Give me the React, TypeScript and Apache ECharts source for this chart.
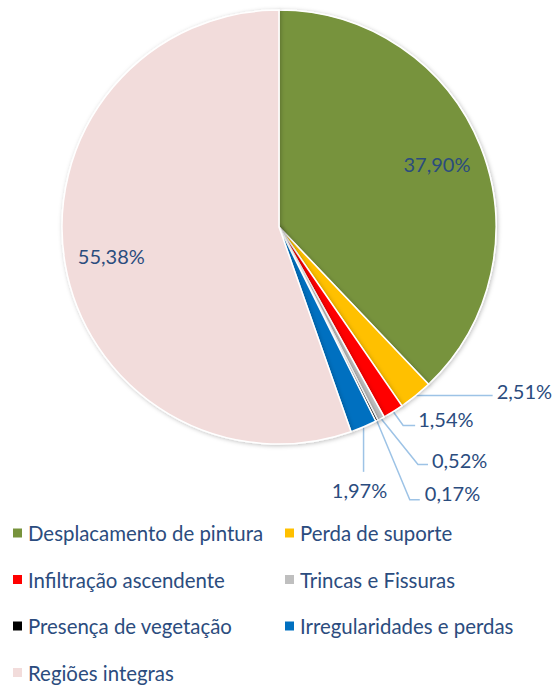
import React, { useEffect, useRef } from "react";
import * as echarts from "echarts";

const categories = [
  "Desplacamento de pintura",
  "Perda de suporte",
  "Infiltração ascendente",
  "Trincas e Fissuras",
  "Presença de vegetação",
  "Irregularidades e perdas",
  "Regiões integras",
];
const values = [37.9, 2.51, 1.54, 0.52, 0.17, 1.97, 55.38];
const colors = ["#77933C", "#FFC000", "#FF0000", "#BFBFBF", "#000000", "#0070C0", "#F2DCDB"];
const insideLabelIdx = [0, 6];
const legendCol1 = [0, 2, 4, 6];
const legendCol2 = [1, 3, 5];

// label placement (offsets from the slice edge anchor): [midDx, midDy, endDx, endDy, textDx, textDy, align]
const labelGeom: Record<number, [number, number, number, number, number, number, string]> = {
  1: [3, 0, 77, 0, 81, -5, "left"],
  2: [10, 14, 22, 14, 25, 7, "left"],
  3: [37, 46, 47, 46, 51, 41, "left"],
  4: [33, 79, 43, 79, 48, 72, "left"],
  5: [0, 22, 0, 45, -4, 63, "center"],
};

const CX = 279;
const CY = 227;
const R = 217;
const TEXT = "#2B4C7E";
const FONT = "Lato";

const fmt = (v: number) => v.toFixed(2).replace(".", ",") + "%";

export default function App() {
  const ref = useRef<HTMLDivElement>(null);
  useEffect(() => {
    if (!ref.current) return;
    const chart = echarts.init(ref.current, undefined, { renderer: "svg" });
    const total = values.reduce((a, b) => a + b, 0);
    const cum: number[] = [];
    let acc = 0;
    values.forEach((v) => {
      cum.push(acc + v / 2);
      acc += v;
    });
    const anchor = (i: number) => {
      const a = (cum[i] / total) * Math.PI * 2;
      return [CX + R * Math.sin(a), CY - R * Math.cos(a)];
    };

    const mainData = categories.map((name, i) => ({
      name,
      value: values[i],
      itemStyle: { color: colors[i] },
      label: { show: !insideLabelIdx.includes(i) },
      labelLine: { show: !insideLabelIdx.includes(i) },
    }));
    const labelData = categories.map((name, i) => ({
      name,
      value: values[i],
      itemStyle: { color: "rgba(0,0,0,0)", borderWidth: 0 },
      label: { show: insideLabelIdx.includes(i) },
    }));

    const legendBase = {
      orient: "vertical" as const,
      icon: "rect",
      itemWidth: 11,
      itemHeight: 11,
      itemGap: 26.5,
      padding: 0,
      height: 200,
      textStyle: { fontFamily: FONT, fontSize: 20.4, color: TEXT, lineHeight: 20 },
      selectedMode: false,
    };

    chart.setOption({
      animation: false,
      backgroundColor: "#ffffff",
      legend: [
        { ...legendBase, left: 11, top: 523, data: legendCol1.map((i) => categories[i]) },
        { ...legendBase, left: 283, top: 523, data: legendCol2.map((i) => categories[i]) },
      ],
      series: [
        {
          type: "pie",
          center: [CX, CY],
          radius: [0, R],
          startAngle: 90,
          clockwise: true,
          avoidLabelOverlap: false,
          itemStyle: {
            borderColor: "#ffffff",
            borderWidth: 1.5,
            shadowBlur: 4,
            shadowColor: "rgba(0,0,0,0.25)",
            shadowOffsetX: 1,
            shadowOffsetY: 1,
          },
          label: {
            position: "outside",
            formatter: (p: any) => fmt(p.value),
            fontFamily: FONT,
            fontSize: 20,
            color: TEXT,
          },
          labelLine: { lineStyle: { color: "#9DC3E6", width: 1.5 }, length: 10, length2: 10 },
          labelLayout: (p: any) => {
            const g = labelGeom[p.dataIndex];
            if (!g) return {};
            const [ax, ay] = anchor(p.dataIndex);
            return {
              x: ax + g[4],
              y: ay + g[5],
              align: g[6],
              verticalAlign: "middle",
              hideOverlap: false,
              labelLinePoints: [
                [ax, ay],
                [ax + g[0], ay + g[1]],
                [ax + g[2], ay + g[3]],
              ],
            };
          },
          emphasis: { disabled: true },
          data: mainData,
        },
        {
          type: "pie",
          center: [CX, CY],
          radius: [R * 0.54, R],
          startAngle: 90,
          clockwise: true,
          silent: true,
          legendHoverLink: false,
          label: {
            position: "inside",
            formatter: (p: any) => fmt(p.value),
            fontFamily: FONT,
            fontSize: 20,
            color: TEXT,
          },
          labelLine: { show: false },
          emphasis: { disabled: true },
          data: labelData,
        },
      ],
    });
    return () => chart.dispose();
  }, []);
  return (
    <div
      ref={ref}
      style={{ position: "fixed", left: 0, top: 0, width: 553, height: 686, background: "#fff" }}
    />
  );
}
